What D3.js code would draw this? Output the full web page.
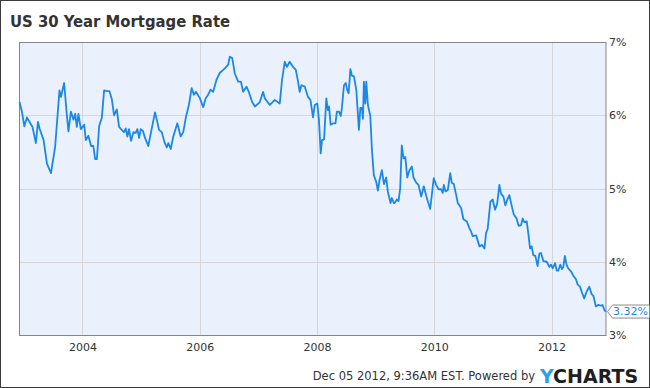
<!DOCTYPE html>
<html><head><meta charset="utf-8">
<script src="https://cdn.jsdelivr.net/npm/d3@7"></script>
<style>body{margin:0;background:#fff} svg{display:block}</style>
</head><body><svg id="c" width="650" height="388"></svg>
<script>
const dates = ["2002-12-05","2002-12-20","2003-01-04","2003-01-20","2003-02-24","2003-03-17","2003-03-30","2003-04-09","2003-05-04","2003-05-25","2003-06-19","2003-07-15","2003-08-11","2003-08-20","2003-09-09","2003-09-26","2003-10-06","2003-10-21","2003-11-06","2003-11-17","2003-11-27","2003-12-07","2003-12-22",
"2004-01-12","2004-01-22","2004-02-07","2004-02-24","2004-03-09","2004-03-20","2004-03-31","2004-04-14","2004-05-01","2004-05-15","2004-06-01","2004-06-17","2004-07-02","2004-07-16","2004-08-02","2004-08-16","2004-09-02","2004-09-16","2004-09-27","2004-10-07","2004-10-17","2004-10-30","2004-11-13","2004-11-28","2004-12-08","2004-12-19","2004-12-29",
"2005-01-11","2005-01-25","2005-02-14","2005-03-07","2005-03-28","2005-04-08","2005-04-22","2005-05-09","2005-05-25","2005-06-09","2005-06-19","2005-07-04","2005-07-20","2005-08-14","2005-09-04","2005-09-20","2005-10-07","2005-10-25","2005-11-11","2005-11-25","2005-12-08",
"2006-01-02","2006-01-22","2006-02-06","2006-02-22","2006-03-09","2006-03-25","2006-04-16","2006-05-06","2006-05-27","2006-06-06","2006-06-27","2006-07-07","2006-07-22","2006-08-07","2006-08-28","2006-09-14","2006-09-28","2006-10-19","2006-11-02","2006-11-23","2006-12-10",
"2007-01-10","2007-01-30","2007-02-10","2007-03-13","2007-04-13","2007-05-14","2007-05-28","2007-06-14","2007-06-28","2007-07-15","2007-08-05","2007-08-22","2007-09-05","2007-09-15","2007-09-26","2007-10-17","2007-11-06","2007-11-21","2007-12-07","2007-12-18",
"2008-01-03","2008-01-13","2008-01-24","2008-02-01","2008-02-14","2008-02-28","2008-03-09","2008-03-16","2008-03-26","2008-04-10","2008-04-25","2008-05-04","2008-05-17","2008-05-28","2008-06-04","2008-06-17","2008-06-28","2008-07-08","2008-07-16","2008-07-27","2008-08-06","2008-08-18","2008-09-02","2008-09-18","2008-09-27","2008-10-07","2008-10-13","2008-10-19","2008-10-28","2008-11-03","2008-11-13","2008-11-28","2008-12-08","2008-12-20",
"2009-01-04","2009-01-14","2009-01-25","2009-02-08","2009-02-21","2009-03-07","2009-03-17","2009-04-03","2009-04-11","2009-04-24","2009-05-02","2009-05-12","2009-05-23","2009-06-02","2009-06-12","2009-06-23","2009-07-04","2009-07-16","2009-07-30","2009-08-14","2009-08-24","2009-09-10","2009-09-24","2009-10-11","2009-10-27","2009-11-11","2009-12-06","2009-12-28",
"2010-01-12","2010-01-27","2010-02-12","2010-02-22","2010-03-01","2010-03-11","2010-03-26","2010-04-10","2010-04-19","2010-05-02","2010-05-17","2010-05-27","2010-06-06","2010-06-17","2010-07-01","2010-07-22","2010-08-07","2010-08-18","2010-08-28","2010-09-18","2010-10-09","2010-10-25","2010-11-09","2010-11-19","2010-11-29","2010-12-16","2010-12-30",
"2011-01-14","2011-01-27","2011-02-10","2011-02-20","2011-03-07","2011-03-19","2011-03-30","2011-04-13","2011-04-27","2011-05-10","2011-05-28","2011-06-10","2011-06-25","2011-07-05","2011-07-15","2011-07-30","2011-08-09","2011-08-20","2011-08-30","2011-09-09","2011-09-22","2011-10-06","2011-10-17","2011-10-27","2011-11-11","2011-12-02","2011-12-18","2011-12-29",
"2012-01-08","2012-01-23","2012-02-02","2012-02-12","2012-02-24","2012-03-06","2012-03-14","2012-03-24","2012-04-03","2012-04-14","2012-05-01","2012-05-15","2012-06-01","2012-06-11","2012-06-26","2012-07-08","2012-07-22","2012-08-06","2012-08-23","2012-09-06","2012-09-18","2012-10-03","2012-10-17","2012-11-03","2012-11-13","2012-11-28","2012-12-05"];

const rates = [6.18,6.05,5.85,5.97,5.84,5.62,5.91,5.82,5.66,5.34,5.21,5.57,6.34,6.25,6.44,6.00,5.78,6.05,5.94,6.02,5.84,6.02,5.81,
5.87,5.66,5.72,5.58,5.58,5.40,5.40,5.85,5.97,6.34,6.33,6.33,6.22,6.00,6.08,5.84,5.80,5.77,5.82,5.71,5.81,5.65,5.77,5.76,5.81,5.69,5.81,
5.79,5.69,5.58,5.81,6.04,5.94,5.80,5.77,5.64,5.56,5.62,5.54,5.71,5.89,5.71,5.77,5.98,6.14,6.37,6.28,6.32,
6.23,6.11,6.23,6.28,6.35,6.32,6.49,6.58,6.62,6.64,6.69,6.80,6.78,6.57,6.46,6.46,6.32,6.39,6.32,6.18,6.12,
6.18,6.32,6.23,6.14,6.21,6.16,6.48,6.73,6.66,6.73,6.66,6.62,6.46,6.32,6.41,6.39,6.25,6.21,5.97,6.14,
6.16,5.94,5.48,5.66,5.67,6.23,6.07,6.12,5.87,5.89,5.89,6.05,6.05,5.99,6.10,6.41,6.44,6.34,6.30,6.63,6.54,6.53,6.34,5.80,6.10,6.10,5.95,6.46,6.16,6.46,6.14,5.99,5.53,5.18,
5.09,4.97,5.12,5.25,5.06,5.15,4.96,4.80,4.87,4.80,4.81,4.85,4.83,5.00,5.59,5.41,5.43,5.15,5.25,5.30,5.15,5.08,5.05,4.89,5.03,4.90,4.72,5.14,
5.05,4.99,4.99,4.94,5.05,4.96,4.98,5.21,5.08,5.06,4.91,4.80,4.77,4.73,4.58,4.55,4.46,4.41,4.35,4.36,4.21,4.23,4.18,4.39,4.45,4.82,4.85,
4.71,4.79,5.05,4.93,4.89,4.77,4.84,4.91,4.77,4.65,4.59,4.49,4.50,4.59,4.54,4.55,4.39,4.18,4.21,4.09,4.08,3.94,4.11,4.12,4.01,4.00,3.93,3.96,
3.91,3.98,3.88,3.88,3.96,3.90,3.93,4.08,3.96,3.91,3.87,3.81,3.76,3.69,3.66,3.58,3.50,3.59,3.66,3.56,3.53,3.39,3.41,3.40,3.41,3.33,3.32];

const xDomain = ["2002-12-05","2012-12-05"];
const yTicks = [3,4,5,6,7];
const xTickYears = [2004,2006,2008,2010,2012];
const title = "US 30 Year Mortgage Rate";
const footer = "Dec 05 2012, 9:36AM EST. Powered by";
const lastLabel = "3.32%";

const W = 650, H = 388;
const m = {left: 19.5, right: 606, top: 42, bottom: 335};
const parse = d3.timeParse("%Y-%m-%d");
const data = dates.map((d, i) => ({date: parse(d), v: rates[i]}));

const x = d3.scaleTime().domain(xDomain.map(parse)).range([m.left, m.right]);
const y = d3.scaleLinear().domain([3, 7]).range([m.bottom, m.top]);

const svg = d3.select("#c");
const font = "'DejaVu Sans', sans-serif";

svg.append("rect").attr("x", 0.5).attr("y", 0.5).attr("width", W - 1).attr("height", H - 1)
  .attr("fill", "#fff").attr("stroke", "#3a3a3a");

svg.append("text").attr("x", 10).attr("y", 27).text(title)
  .attr("font-family", "'DejaVu Sans Condensed', 'DejaVu Sans', sans-serif")
  .style("font-stretch", "condensed")
  .attr("font-weight", "bold").attr("font-size", 16.5).attr("fill", "#333");

svg.append("rect").attr("x", m.left).attr("y", m.top)
  .attr("width", m.right - m.left).attr("height", m.bottom - m.top).attr("fill", "#eaf1fc");

const xTicks = xTickYears.map(yr => new Date(yr, 0, 1));
svg.append("g").selectAll("line").data(xTicks).join("line")
  .attr("x1", d => Math.round(x(d)) + 0.5).attr("x2", d => Math.round(x(d)) + 0.5)
  .attr("y1", m.top).attr("y2", m.bottom).attr("stroke", "#d6d6d6");
svg.append("g").selectAll("line").data(yTicks.filter(t => t > 3 && t < 7)).join("line")
  .attr("x1", m.left).attr("x2", m.right)
  .attr("y1", d => Math.round(y(d)) + 0.5).attr("y2", d => Math.round(y(d)) + 0.5).attr("stroke", "#d6d6d6");

svg.append("rect").attr("x", m.left).attr("y", m.top + 0.5)
  .attr("width", m.right - m.left).attr("height", m.bottom - m.top).attr("fill", "none").attr("stroke", "#858585");

const line = d3.line().x(d => x(d.date)).y(d => y(d.v));
svg.append("path").datum(data).attr("d", line).attr("fill", "none")
  .attr("stroke", "#1a88e6").attr("stroke-width", 1.8).attr("stroke-linejoin", "round");

const yAxis = svg.append("g").attr("transform", `translate(${m.right},0)`)
  .call(d3.axisRight(y).tickValues(yTicks).tickFormat(d => d + "%").tickSize(0).tickPadding(3));
yAxis.select(".domain").remove();
yAxis.selectAll("text").attr("font-family", font).attr("font-size", 11).attr("fill", "#333");

const xAxis = svg.append("g").attr("transform", `translate(0,${m.bottom})`)
  .call(d3.axisBottom(x).tickValues(xTicks).tickFormat(d3.timeFormat("%Y")).tickSize(0).tickPadding(8));
xAxis.select(".domain").remove();
xAxis.selectAll("text").attr("font-family", font).attr("font-size", 11).attr("fill", "#333");

const last = data[data.length - 1];
const lg = svg.append("g").attr("transform", `translate(${m.right + 1},${y(last.v)})`);
lg.append("path").attr("d", "M0.5,0 L5.5,-6.5 H42.5 V6.5 H5.5 Z").attr("fill", "#fff").attr("stroke", "#8a8a8a");
lg.append("text").attr("x", 6).attr("dy", "0.35em").text(lastLabel)
  .attr("font-family", font).attr("font-size", 11).attr("fill", "#1a88e6");

svg.append("text").attr("x", 535).attr("y", 380).attr("text-anchor", "end").text(footer)
  .attr("font-family", font).attr("font-size", 11.5).attr("fill", "#333");
const logo = svg.append("text").attr("x", 540).attr("y", 383)
  .attr("font-family", font).attr("font-weight", "bold").attr("font-size", 19);
logo.append("tspan").attr("fill", "#2aa0e6").text("Y");
logo.append("tspan").attr("fill", "#1e1e1e").text("CHARTS");
</script></body></html>
